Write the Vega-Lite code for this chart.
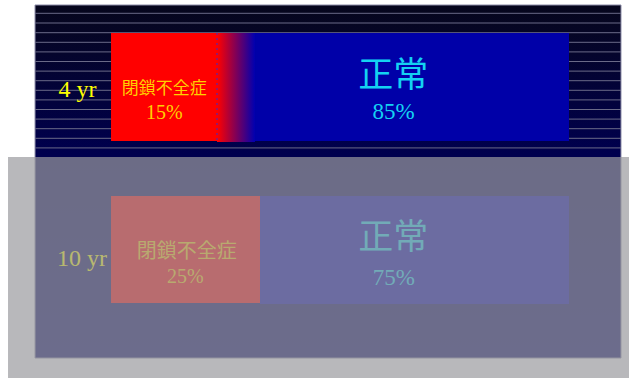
{
  "$schema": "https://vega.github.io/schema/vega-lite/v6.json",
  "width": 629,
  "height": 379,
  "autosize": {"type": "fit", "contains": "padding"},
  "padding": 0,
  "background": "#ffffff",
  "config": {"view": {"stroke": null}},
  "datasets": {
    "segments": [
      {"period": "4 yr", "condition": "閉鎖不全症", "pct": 15, "start": 0, "end": 23.14, "y0": 0.6677, "y1": 1.3323},
      {"period": "4 yr", "condition": "正常", "pct": 85, "start": 31.44, "end": 100, "y0": 0.6677, "y1": 1.3323},
      {"period": "10 yr", "condition": "閉鎖不全症", "pct": 25, "start": 0, "end": 32.53, "y0": 1.6708, "y1": 2.3292},
      {"period": "10 yr", "condition": "正常", "pct": 75, "start": 32.53, "end": 100, "y0": 1.6708, "y1": 2.3354}
    ],
    "transition": [
      {"period": "4 yr", "start": 23.14, "end": 31.44, "y0": 0.6677, "y1": 1.3385}
    ],
    "labels": [
      {"period": "4 yr", "kind": "year", "text": "4 yr", "x": -7.3, "y": 1.0154},
      {"period": "10 yr", "kind": "year", "text": "10 yr", "x": -6.33, "y": 2.0572},
      {"period": "4 yr", "kind": "name", "condition": "閉鎖不全症", "text": "閉鎖不全症", "x": 11.64, "y": 1.0105},
      {"period": "4 yr", "kind": "pct", "condition": "閉鎖不全症", "text": "15%", "x": 11.62, "y": 1.1575},
      {"period": "4 yr", "kind": "name", "condition": "正常", "text": "正常", "x": 61.65, "y": 0.9298},
      {"period": "4 yr", "kind": "pct", "condition": "正常", "text": "85%", "x": 61.68, "y": 1.1545},
      {"period": "10 yr", "kind": "name", "condition": "閉鎖不全症", "text": "閉鎖不全症", "x": 16.52, "y": 2.0148},
      {"period": "10 yr", "kind": "pct", "condition": "閉鎖不全症", "text": "25%", "x": 16.22, "y": 2.1711},
      {"period": "10 yr", "kind": "name", "condition": "正常", "text": "正常", "x": 61.65, "y": 1.928},
      {"period": "10 yr", "kind": "pct", "condition": "正常", "text": "75%", "x": 61.75, "y": 2.1742}
    ],
    "stripes": [
      {"y": 0.5465}, {"y": 0.6062}, {"y": 0.6658}, {"y": 0.7249}, {"y": 0.784}, {"y": 0.8431},
      {"y": 0.9022}, {"y": 0.9612}, {"y": 1.0203}, {"y": 1.0794}, {"y": 1.1385}, {"y": 1.1975},
      {"y": 1.2566}, {"y": 1.3157}, {"y": 1.3748}
    ]
  },
  "layer": [
    {
      "data": {"values": [{"panel": "background"}]},
      "mark": {
        "type": "rect",
        "stroke": "#8a8aa6",
        "strokeWidth": 1,
        "color": {
          "gradient": "linear", "x1": 0, "y1": 0, "x2": 0, "y2": 1,
          "stops": [
            {"offset": 0, "color": "#06061c"},
            {"offset": 0.42, "color": "#00004e"},
            {"offset": 1, "color": "#000062"}
          ]
        }
      },
      "encoding": {
        "x": {"datum": -16.59, "type": "quantitative", "scale": {"domain": [-24.24, 113.1], "nice": false, "zero": false}, "axis": null},
        "x2": {"datum": 111.35},
        "y": {"datum": 0.4954, "type": "quantitative", "scale": {"domain": [0.4646, 2.7969], "reverse": true, "nice": false, "zero": false}, "axis": null},
        "y2": {"datum": 2.6677}
      }
    },
    {
      "data": {"name": "stripes"},
      "mark": {"type": "rule", "stroke": "#6a6a88", "strokeWidth": 1},
      "encoding": {
        "x": {"datum": -16.59, "type": "quantitative", "scale": {"domain": [-24.24, 113.1], "nice": false, "zero": false}, "axis": null},
        "x2": {"datum": 111.35},
        "y": {"field": "y", "type": "quantitative", "scale": {"domain": [0.4646, 2.7969], "reverse": true, "nice": false, "zero": false}, "axis": null}
      }
    },
    {
      "data": {"name": "segments"},
      "mark": {"type": "rect"},
      "encoding": {
        "x": {"field": "start", "type": "quantitative", "scale": {"domain": [-24.24, 113.1], "nice": false, "zero": false}, "axis": null},
        "x2": {"field": "end"},
        "y": {"field": "y0", "type": "quantitative", "scale": {"domain": [0.4646, 2.7969], "reverse": true, "nice": false, "zero": false}, "axis": null},
        "y2": {"field": "y1"},
        "color": {"field": "condition", "type": "nominal", "scale": {"domain": ["閉鎖不全症", "正常"], "range": ["#ff0000", "#0000a8"]}, "legend": null}
      }
    },
    {
      "data": {"name": "transition"},
      "mark": {
        "type": "rect",
        "color": {
          "gradient": "linear", "x1": 0, "y1": 0, "x2": 1, "y2": 0,
          "stops": [
            {"offset": 0, "color": "#ff0000"},
            {"offset": 1, "color": "#0000b0"}
          ]
        }
      },
      "encoding": {
        "x": {"field": "start", "type": "quantitative", "scale": {"domain": [-24.24, 113.1], "nice": false, "zero": false}, "axis": null},
        "x2": {"field": "end"},
        "y": {"field": "y0", "type": "quantitative", "scale": {"domain": [0.4646, 2.7969], "reverse": true, "nice": false, "zero": false}, "axis": null},
        "y2": {"field": "y1"}
      }
    },
    {
      "data": {"name": "transition"},
      "mark": {"type": "rule", "stroke": "#3a2ad0", "strokeWidth": 1, "strokeDash": [2, 3]},
      "encoding": {
        "x": {"field": "start", "type": "quantitative", "scale": {"domain": [-24.24, 113.1], "nice": false, "zero": false}, "axis": null},
        "y": {"field": "y0", "type": "quantitative", "scale": {"domain": [0.4646, 2.7969], "reverse": true, "nice": false, "zero": false}, "axis": null},
        "y2": {"field": "y1"}
      }
    },
    {
      "data": {"name": "labels"},
      "transform": [{"filter": "datum.kind == 'year'"}],
      "mark": {"type": "text", "font": "Liberation Serif", "fontSize": 24, "color": "#ffff00", "align": "center", "baseline": "middle"},
      "encoding": {
        "x": {"field": "x", "type": "quantitative", "scale": {"domain": [-24.24, 113.1], "nice": false, "zero": false}, "axis": null},
        "y": {"field": "y", "type": "quantitative", "scale": {"domain": [0.4646, 2.7969], "reverse": true, "nice": false, "zero": false}, "axis": null},
        "text": {"field": "text"}
      }
    },
    {
      "data": {"name": "labels"},
      "transform": [{"filter": "datum.kind == 'name' && datum.condition == '閉鎖不全症' && datum.period == '4 yr'"}],
      "mark": {"type": "text", "font": "Noto Sans CJK JP", "fontSize": 17, "color": "#ffd000", "align": "center", "baseline": "middle"},
      "encoding": {
        "x": {"field": "x", "type": "quantitative", "scale": {"domain": [-24.24, 113.1], "nice": false, "zero": false}, "axis": null},
        "y": {"field": "y", "type": "quantitative", "scale": {"domain": [0.4646, 2.7969], "reverse": true, "nice": false, "zero": false}, "axis": null},
        "text": {"field": "text"}
      }
    },
    {
      "data": {"name": "labels"},
      "transform": [{"filter": "datum.kind == 'name' && datum.condition == '閉鎖不全症' && datum.period == '10 yr'"}],
      "mark": {"type": "text", "font": "Noto Sans CJK JP", "fontSize": 20, "color": "#ffd000", "align": "center", "baseline": "middle"},
      "encoding": {
        "x": {"field": "x", "type": "quantitative", "scale": {"domain": [-24.24, 113.1], "nice": false, "zero": false}, "axis": null},
        "y": {"field": "y", "type": "quantitative", "scale": {"domain": [0.4646, 2.7969], "reverse": true, "nice": false, "zero": false}, "axis": null},
        "text": {"field": "text"}
      }
    },
    {
      "data": {"name": "labels"},
      "transform": [{"filter": "datum.kind == 'pct' && datum.condition == '閉鎖不全症'"}],
      "mark": {"type": "text", "font": "Liberation Serif", "fontSize": 20, "color": "#ffd000", "align": "center", "baseline": "middle"},
      "encoding": {
        "x": {"field": "x", "type": "quantitative", "scale": {"domain": [-24.24, 113.1], "nice": false, "zero": false}, "axis": null},
        "y": {"field": "y", "type": "quantitative", "scale": {"domain": [0.4646, 2.7969], "reverse": true, "nice": false, "zero": false}, "axis": null},
        "text": {"field": "text"}
      }
    },
    {
      "data": {"name": "labels"},
      "transform": [{"filter": "datum.kind == 'name' && datum.condition == '正常'"}],
      "mark": {"type": "text", "font": "Noto Sans CJK JP", "fontSize": 35, "color": "#14d2f2", "align": "center", "baseline": "middle"},
      "encoding": {
        "x": {"field": "x", "type": "quantitative", "scale": {"domain": [-24.24, 113.1], "nice": false, "zero": false}, "axis": null},
        "y": {"field": "y", "type": "quantitative", "scale": {"domain": [0.4646, 2.7969], "reverse": true, "nice": false, "zero": false}, "axis": null},
        "text": {"field": "text"}
      }
    },
    {
      "data": {"name": "labels"},
      "transform": [{"filter": "datum.kind == 'pct' && datum.condition == '正常'"}],
      "mark": {"type": "text", "font": "Liberation Serif", "fontSize": 23, "color": "#14d2f2", "align": "center", "baseline": "middle"},
      "encoding": {
        "x": {"field": "x", "type": "quantitative", "scale": {"domain": [-24.24, 113.1], "nice": false, "zero": false}, "axis": null},
        "y": {"field": "y", "type": "quantitative", "scale": {"domain": [0.4646, 2.7969], "reverse": true, "nice": false, "zero": false}, "axis": null},
        "text": {"field": "text"}
      }
    },
    {
      "data": {"values": [{"panel": "overlay"}]},
      "mark": {"type": "rect", "color": "#9a9a9e", "opacity": 0.7},
      "encoding": {
        "x": {"datum": -22.49, "type": "quantitative", "scale": {"domain": [-24.24, 113.1], "nice": false, "zero": false}, "axis": null},
        "x2": {"datum": 113.1},
        "y": {"datum": 1.4308, "type": "quantitative", "scale": {"domain": [0.4646, 2.7969], "reverse": true, "nice": false, "zero": false}, "axis": null},
        "y2": {"datum": 2.7908}
      }
    }
  ]
}
